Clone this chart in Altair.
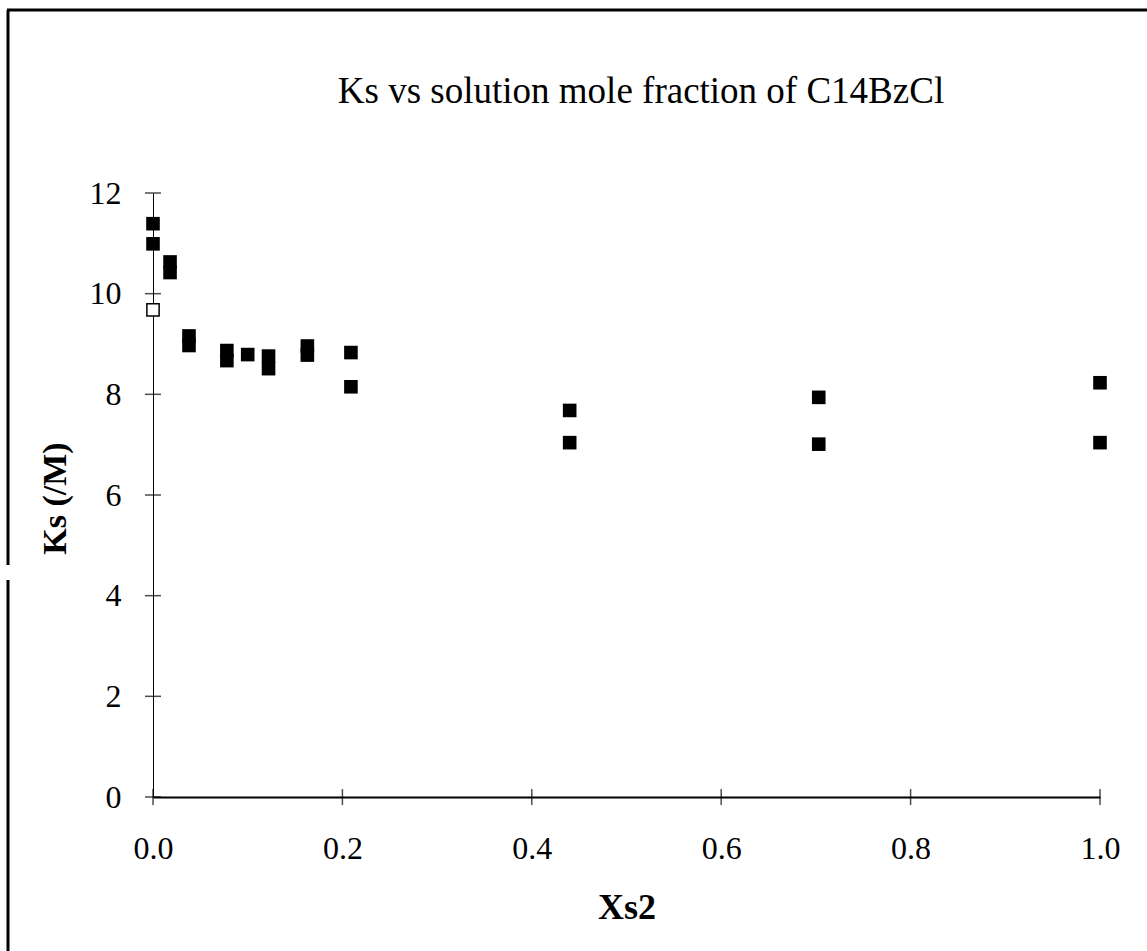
import altair as alt
import pandas as pd

# Filled squares
xs_filled = [0.0, 0.0, 0.018, 0.018, 0.038, 0.038, 0.078, 0.078, 0.100, 0.122, 0.122,
             0.163, 0.163, 0.209, 0.209, 0.44, 0.44, 0.703, 0.703, 1.0, 1.0]
ks_filled = [11.39, 10.99, 10.63, 10.42, 9.16, 8.97, 8.87, 8.67, 8.79, 8.76, 8.51,
             8.96, 8.78, 8.83, 8.15, 7.68, 7.04, 7.94, 7.01, 8.23, 7.04]
# Hollow square
xs_open = [0.0]
ks_open = [9.68]

x_ticks = [0.0, 0.2, 0.4, 0.6, 0.8, 1.0]
y_ticks = [0, 2, 4, 6, 8, 10, 12]

TITLE = "Ks vs solution mole fraction of C14BzCl"

filled = pd.DataFrame({"x": xs_filled, "y": ks_filled})
hollow = pd.DataFrame({"x": xs_open, "y": ks_open})
xt = pd.DataFrame({"x": x_ticks, "y": [0] * len(x_ticks)})
yt = pd.DataFrame({"x": [0.0] * len(y_ticks), "y": y_ticks})
one = pd.DataFrame({"t": [TITLE]})

FONT = "Liberation Serif"

xscale = alt.Scale(domain=[0, 1], nice=False, zero=False)
yscale = alt.Scale(domain=[0, 12], nice=False)

xaxis = alt.Axis(values=x_ticks, format=".1f", ticks=False, domainColor="black",
                 domainWidth=2, labelFont=FONT, labelFontSize=32, labelColor="black",
                 labelPadding=36, labelFlush=False, grid=False, title="Xs2",
                 titleFont=FONT, titleFontSize=36, titleFontWeight="bold",
                 titleColor="black", titleY=110, titleBaseline="middle")
yaxis = alt.Axis(values=y_ticks, format="d", ticks=False, domainColor="black",
                 domainWidth=1, labelFont=FONT, labelFontSize=32, labelColor="black",
                 labelPadding=32, labelFlush=False, grid=False, title="Ks (/M)",
                 titleFont=FONT, titleFontSize=34, titleFontWeight="bold",
                 titleColor="black", titleX=-98, titleY=305, titleBaseline="middle",
                 titleAngle=-90)

pts = alt.Chart(filled).mark_point(shape="square", filled=True, size=185, opacity=1,
                                   color="black").encode(
    x=alt.X("x:Q", scale=xscale, axis=xaxis),
    y=alt.Y("y:Q", scale=yscale, axis=yaxis),
)

opn = alt.Chart(hollow).mark_point(shape="square", filled=True, size=150, opacity=1,
                                   fill="white", stroke="black", strokeWidth=1.5).encode(
    x=alt.X("x:Q", scale=xscale),
    y=alt.Y("y:Q", scale=yscale),
)

xtick = alt.Chart(xt).mark_tick(orient="vertical", size=16, thickness=1.5,
                                color="black").encode(
    x=alt.X("x:Q", scale=xscale), y=alt.Y("y:Q", scale=yscale))
ytick = alt.Chart(yt).mark_tick(orient="horizontal", size=16, thickness=1.5,
                                color="black").encode(
    x=alt.X("x:Q", scale=xscale), y=alt.Y("y:Q", scale=yscale))

# chart title as a text mark (so the page frame does not push it away)
title = alt.Chart(one).mark_text(font=FONT, fontSize=37, color="black",
                                 align="center", baseline="alphabetic").encode(
    text="t:N", x=alt.value(488), y=alt.value(-90))

# page frame (left border with a small gap, and top border)
frame_left1 = alt.Chart(one).mark_rule(color="black", strokeWidth=3).encode(
    x=alt.value(-145), y=alt.value(-183), y2=alt.value(372))
frame_left2 = alt.Chart(one).mark_rule(color="black", strokeWidth=3).encode(
    x=alt.value(-145), y=alt.value(387), y2=alt.value(758))
frame_top = alt.Chart(one).mark_rule(color="black", strokeWidth=3).encode(
    x=alt.value(-146), x2=alt.value(994), y=alt.value(-183))

chart = alt.layer(xtick, ytick, pts, opn, title, frame_left1, frame_left2,
                  frame_top).properties(
    width=947, height=604,
    autosize=alt.AutoSizeParams(type="none"),
    padding={"left": 153, "top": 193, "right": 47, "bottom": 154},
).configure(background="white").configure_view(stroke=None)

chart.save("out.html", embed_options={"renderer": "svg", "actions": False})
